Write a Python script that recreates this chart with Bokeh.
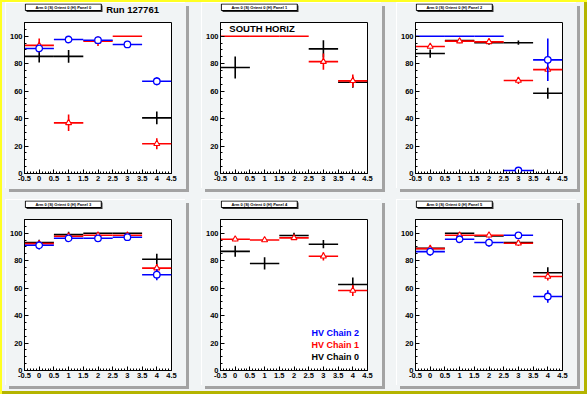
from bokeh.plotting import figure
from bokeh.layouts import row, column
from bokeh.models import Range1d, FixedTicker, Label, Legend, LegendItem, ColumnDataSource
from bokeh.embed import file_html
from bokeh.resources import INLINE

# ---------------- data ----------------
bins = [0, 1, 2, 3, 4]
bin_half_width = 0.5

x_ticks = [-0.5, 0, 0.5, 1, 1.5, 2, 2.5, 3, 3.5, 4, 4.5]
x_tick_labels = ["-0.5", "0", "0.5", "1", "1.5", "2", "2.5", "3", "3.5", "4", "4.5"]
x_minor_ticks = [-0.5, -0.4, -0.3, -0.2, -0.1, 0, 0.1, 0.2, 0.3, 0.4, 0.5, 0.6, 0.7, 0.8, 0.9,
                 1, 1.1, 1.2, 1.3, 1.4, 1.5, 1.6, 1.7, 1.8, 1.9, 2, 2.1, 2.2, 2.3, 2.4, 2.5,
                 2.6, 2.7, 2.8, 2.9, 3, 3.1, 3.2, 3.3, 3.4, 3.5, 3.6, 3.7, 3.8, 3.9, 4, 4.1,
                 4.2, 4.3, 4.4, 4.5]
y_ticks = [0, 20, 40, 60, 80, 100]
y_tick_labels = ["0", "20", "40", "60", "80", "100"]
y_minor_ticks = [0, 5, 10, 15, 20, 25, 30, 35, 40, 45, 50, 55, 60, 65, 70, 75, 80, 85, 90,
                 95, 100, 105, 110]

panel_titles = ["Arm 0 (S) Orient 0 (H) Panel 0", "Arm 0 (S) Orient 0 (H) Panel 1",
                "Arm 0 (S) Orient 0 (H) Panel 2", "Arm 0 (S) Orient 0 (H) Panel 3",
                "Arm 0 (S) Orient 0 (H) Panel 4", "Arm 0 (S) Orient 0 (H) Panel 5"]
run_label = "Run 127761"
region_label = "SOUTH HORIZ"
chain_names = ["HV Chain 2", "HV Chain 1", "HV Chain 0"]

# values per panel (None = no entry)
chain0_values = [
    [85.3, 85.3, None, None, 40.5],
    [77.2, None, None, 90.8, 66.5],
    [87.4, 96.8, 95.3, 95.3, 58.5],
    [93.2, 99.0, 100.0, 100.0, 81.0],
    [86.8, 78.0, 98.3, 92.0, 62.7],
    [89.0, 100.0, 98.0, 93.2, 71.2],
]
chain0_errors = [
    [4.5, 4.7, 0, 0, 4.7],
    [8.0, 0, 0, 6.3, 4.0],
    [3.0, 1.5, 1.5, 1.5, 4.0],
    [2.0, 2.0, 0, 0, 4.0],
    [4.0, 4.5, 2.0, 3.0, 5.0],
    [1.5, 0, 1.0, 1.5, 4.0],
]
chain1_values = [
    [93.3, 36.9, 96.4, 100.0, 21.7],
    [100.0, 100.0, 100.0, 81.5, 67.5],
    [92.5, 96.4, 95.9, 67.7, 75.7],
    [92.4, 97.8, 98.5, 98.5, 74.6],
    [95.6, 95.1, 96.6, 83.2, 58.3],
    [88.8, 98.5, 98.5, 92.7, 68.5],
]
chain1_errors = [
    [5.0, 6.0, 3.5, 0, 4.0],
    [0, 0, 0, 6.0, 4.6],
    [1.5, 1.5, 1.5, 2.5, 2.0],
    [2.0, 1.5, 1.5, 1.5, 3.0],
    [1.5, 1.5, 1.5, 3.0, 4.0],
    [2.0, 1.5, 1.5, 2.0, 3.0],
]
chain2_values = [
    [91.1, 97.6, 97.1, 94.0, 67.2],
    [None, None, None, None, None],
    [100.0, 100.0, 100.0, 2.2, 82.8],
    [91.2, 96.3, 96.3, 97.1, 69.8],
    [None, None, None, None, None],
    [86.6, 95.6, 93.2, 98.5, 53.9],
]
chain2_errors = [
    [1.5, 1.0, 1.0, 1.0, 3.0],
    [0, 0, 0, 0, 0],
    [0, 0, 0, 1.0, 15.5],
    [3.0, 2.0, 2.0, 1.5, 4.0],
    [0, 0, 0, 0, 0],
    [3.0, 2.0, 3.0, 1.5, 4.5],
]

# ---------------- style ----------------
PAD = "#f1f4f5"
FONT = "Liberation Sans"
COL0, COL1, COL2 = "black", "#ff0000", "#0000ff"
PW = 180
HEAD_H = 18
MAIN_H = 168


def series_sources(values, errors):
    xs, ys, l, r = [], [], [], []
    mx, my, elo, ehi = [], [], [], []
    for b, v, e in zip(bins, values, errors):
        if v is None:
            continue
        xs.append(b); ys.append(v)
        l.append(b - bin_half_width); r.append(b + bin_half_width)
        if e > 0:
            mx.append(b); my.append(v); elo.append(v - e); ehi.append(v + e)
    h = ColumnDataSource(dict(x=xs, y=ys, l=l, r=r))
    m = ColumnDataSource(dict(x=mx, y=my, lo=elo, hi=ehi))
    return h, m


def make_header(i):
    h = figure(width=PW, height=HEAD_H, x_range=Range1d(0, PW), y_range=Range1d(0, HEAD_H),
               output_backend="svg", toolbar_location=None, x_axis_type=None, y_axis_type=None,
               min_border_left=0, min_border_right=0, min_border_top=0, min_border_bottom=0,
               background_fill_color=PAD, border_fill_color=PAD, outline_line_color=None)
    h.grid.visible = False
    # title box with its dark drop shadow (pixel layout of the pad header)
    h.quad(left=[2.5], right=[95.5], top=[16.0], bottom=[9.5], fill_color="#333333",
           line_color=None)
    h.quad(left=[1.0], right=[94.0], top=[17.5], bottom=[11.0], fill_color="white",
           line_color="black", line_width=1)
    h.add_layout(Label(x=47.5, y=14.2, text=panel_titles[i], text_align="center",
                       text_baseline="middle", text_font=FONT, text_font_size="4px",
                       text_font_style="bold", text_color="black"))
    return h


def make_main(i):
    p = figure(width=PW, height=MAIN_H, x_range=Range1d(-0.5, 4.5), y_range=Range1d(0, 110),
               output_backend="svg", toolbar_location=None,
               min_border_left=17, min_border_right=15, min_border_top=1, min_border_bottom=16,
               background_fill_color="white", border_fill_color=PAD,
               outline_line_color="black", outline_line_width=1)
    p.grid.visible = False
    for ax in (p.xaxis[0], p.yaxis[0]):
        ax.axis_line_color = "black"
        ax.major_tick_in = 4
        ax.major_tick_out = 0
        ax.minor_tick_in = 2
        ax.minor_tick_out = 0
        ax.major_tick_line_color = "black"
        ax.minor_tick_line_color = "black"
        ax.major_label_text_font = FONT
        ax.major_label_text_font_style = "bold"
        ax.major_label_text_font_size = "7.5px"
        ax.major_label_text_color = "black"
        ax.major_label_standoff = 2
    p.xaxis.ticker = FixedTicker(ticks=x_ticks, minor_ticks=x_minor_ticks)
    p.xaxis.major_label_overrides = {t: s for t, s in zip(x_ticks, x_tick_labels)}
    p.yaxis.ticker = FixedTicker(ticks=y_ticks, minor_ticks=y_minor_ticks)
    p.yaxis.major_label_overrides = {t: s for t, s in zip(y_ticks, y_tick_labels)}

    specs = [
        (chain0_values[i], chain0_errors[i], COL0, None, 0, 0),
        (chain1_values[i], chain1_errors[i], COL1, "triangle", 6, 1.1),
        (chain2_values[i], chain2_errors[i], COL2, "circle", 6.5, 1.3),
    ]
    for vals, errs, col, marker, msize, mlw in specs:
        h, m = series_sources(vals, errs)
        p.segment(x0="l", y0="y", x1="r", y1="y", source=h, line_color=col, line_width=1.6)
        p.segment(x0="x", y0="lo", x1="x", y1="hi", source=m, line_color=col, line_width=1.6)
        if marker:
            p.scatter(x="x", y="y", source=m, marker=marker, size=msize, line_color=col,
                      line_width=mlw, fill_color="white", fill_alpha=1.0)
    return p


headers = [make_header(i) for i in range(6)]
mains = [make_main(i) for i in range(6)]

headers[0].add_layout(Label(x=100, y=12.4, text=run_label, text_align="left",
                            text_baseline="middle", text_font=FONT, text_font_size="9.5px",
                            text_font_style="bold", text_color="black"))
mains[1].add_layout(Label(x=-0.2, y=105.4, text=region_label, text_align="left",
                          text_baseline="middle", text_font=FONT, text_font_size="9.5px",
                          text_font_style="bold", text_color="black"))

# legend in panel 4
p4 = mains[4]
leg_specs = [(chain_names[0], "circle", COL2, 30.5),
             (chain_names[1], "triangle", COL1, 18.5),
             (chain_names[2], "cross", COL0, 6.5)]
for name, marker, col, ybot in leg_specs:
    r = p4.scatter(x=[], y=[], marker=marker, size=6, line_color=col, line_width=1.3,
                   fill_alpha=0.0)
    leg = Legend(items=[LegendItem(label=name, renderers=[r])], location=(75.5, ybot),
                 padding=0, margin=0, spacing=0, glyph_width=13, glyph_height=13,
                 label_standoff=3, label_height=13,
                 label_text_font=FONT, label_text_font_style="bold",
                 label_text_font_size="9px", label_text_color=col,
                 border_line_alpha=0.0, background_fill_alpha=0.0)
    p4.add_layout(leg)

margins = [(3, 8, 5, 6), (3, 7, 5, 8), (3, 10, 5, 8),
           (6, 8, 8, 6), (6, 7, 8, 8), (6, 10, 8, 8)]
pads = []
for i in range(6):
    pads.append(column(headers[i], mains[i], spacing=0, margin=margins[i],
                       styles={"box-shadow": "-1px -1px 0 #ffffff, 3px 3px 0 #a3a3a3"}))

layout = column(row(*pads[:3]), row(*pads[3:]),
                styles={"background-color": PAD,
                        "box-shadow": "inset 2px 2px 0 #ffff22, inset -3px -3px 0 #b4b400"})

open("out.html", "w").write(file_html(layout, INLINE))
